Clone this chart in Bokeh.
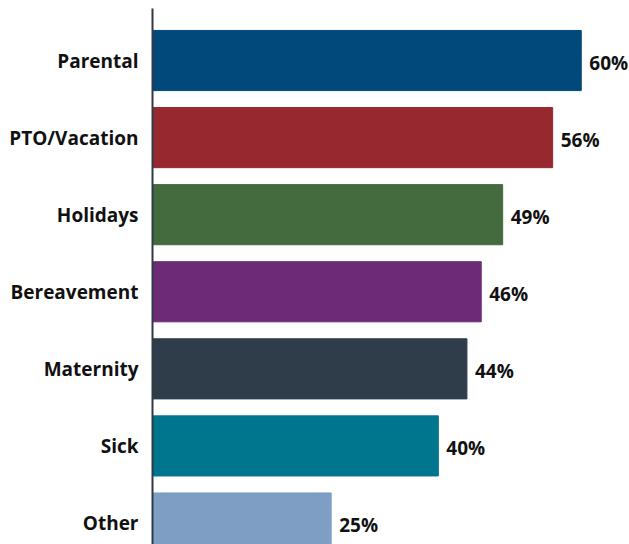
from bokeh.plotting import figure
from bokeh.models import ColumnDataSource, FixedTicker, Range1d
from bokeh.core.properties import value
from bokeh.embed import file_html
from bokeh.resources import INLINE

categories = ["Parental", "PTO/Vacation", "Holidays", "Bereavement", "Maternity", "Sick", "Other"]
values = [60, 56, 49, 46, 44, 40, 25]
colors = ["#00497a", "#97282f", "#436b3d", "#6c2a77", "#2f3d4a", "#00758e", "#7f9ec3"]

n = len(categories)
ypos = [n - 1 - i for i in range(n)]
labels = [f"{v}%" for v in values]

src = ColumnDataSource(dict(y=ypos, v=values, c=colors, lab=labels, cat=categories))

p = figure(width=629, height=544, output_backend="svg", toolbar_location=None,
           x_range=Range1d(0, 66.75), y_range=Range1d(-0.279, 6.675),
           min_border_left=152, min_border_right=0, min_border_top=8, min_border_bottom=0)

p.hbar(y="y", right="v", left=0, height=0.78, color="c", source=src)
p.text(x="v", y="y", text="lab", source=src, x_offset=8, y_offset=2, text_align="left",
       text_baseline="middle", text_font=value("Open Sans"), text_font_style="bold",
       text_font_size="19px", text_color="#111111")

p.xaxis.visible = False
p.grid.visible = False
p.outline_line_color = None

ax = p.yaxis[0]
ax.ticker = FixedTicker(ticks=ypos)
ax.major_label_overrides = {y: c for y, c in zip(ypos, categories)}
ax.major_tick_line_color = None
ax.minor_tick_line_color = None
ax.major_tick_out = 0
ax.major_tick_in = 0
ax.axis_line_color = "#2e3a46"
ax.axis_line_width = 2
ax.major_label_standoff = 14
ax.major_label_text_font = "Open Sans"
ax.major_label_text_font_style = "bold"
ax.major_label_text_font_size = "19px"
ax.major_label_text_color = "#111111"

open("out.html", "w").write(file_html(p, INLINE))
